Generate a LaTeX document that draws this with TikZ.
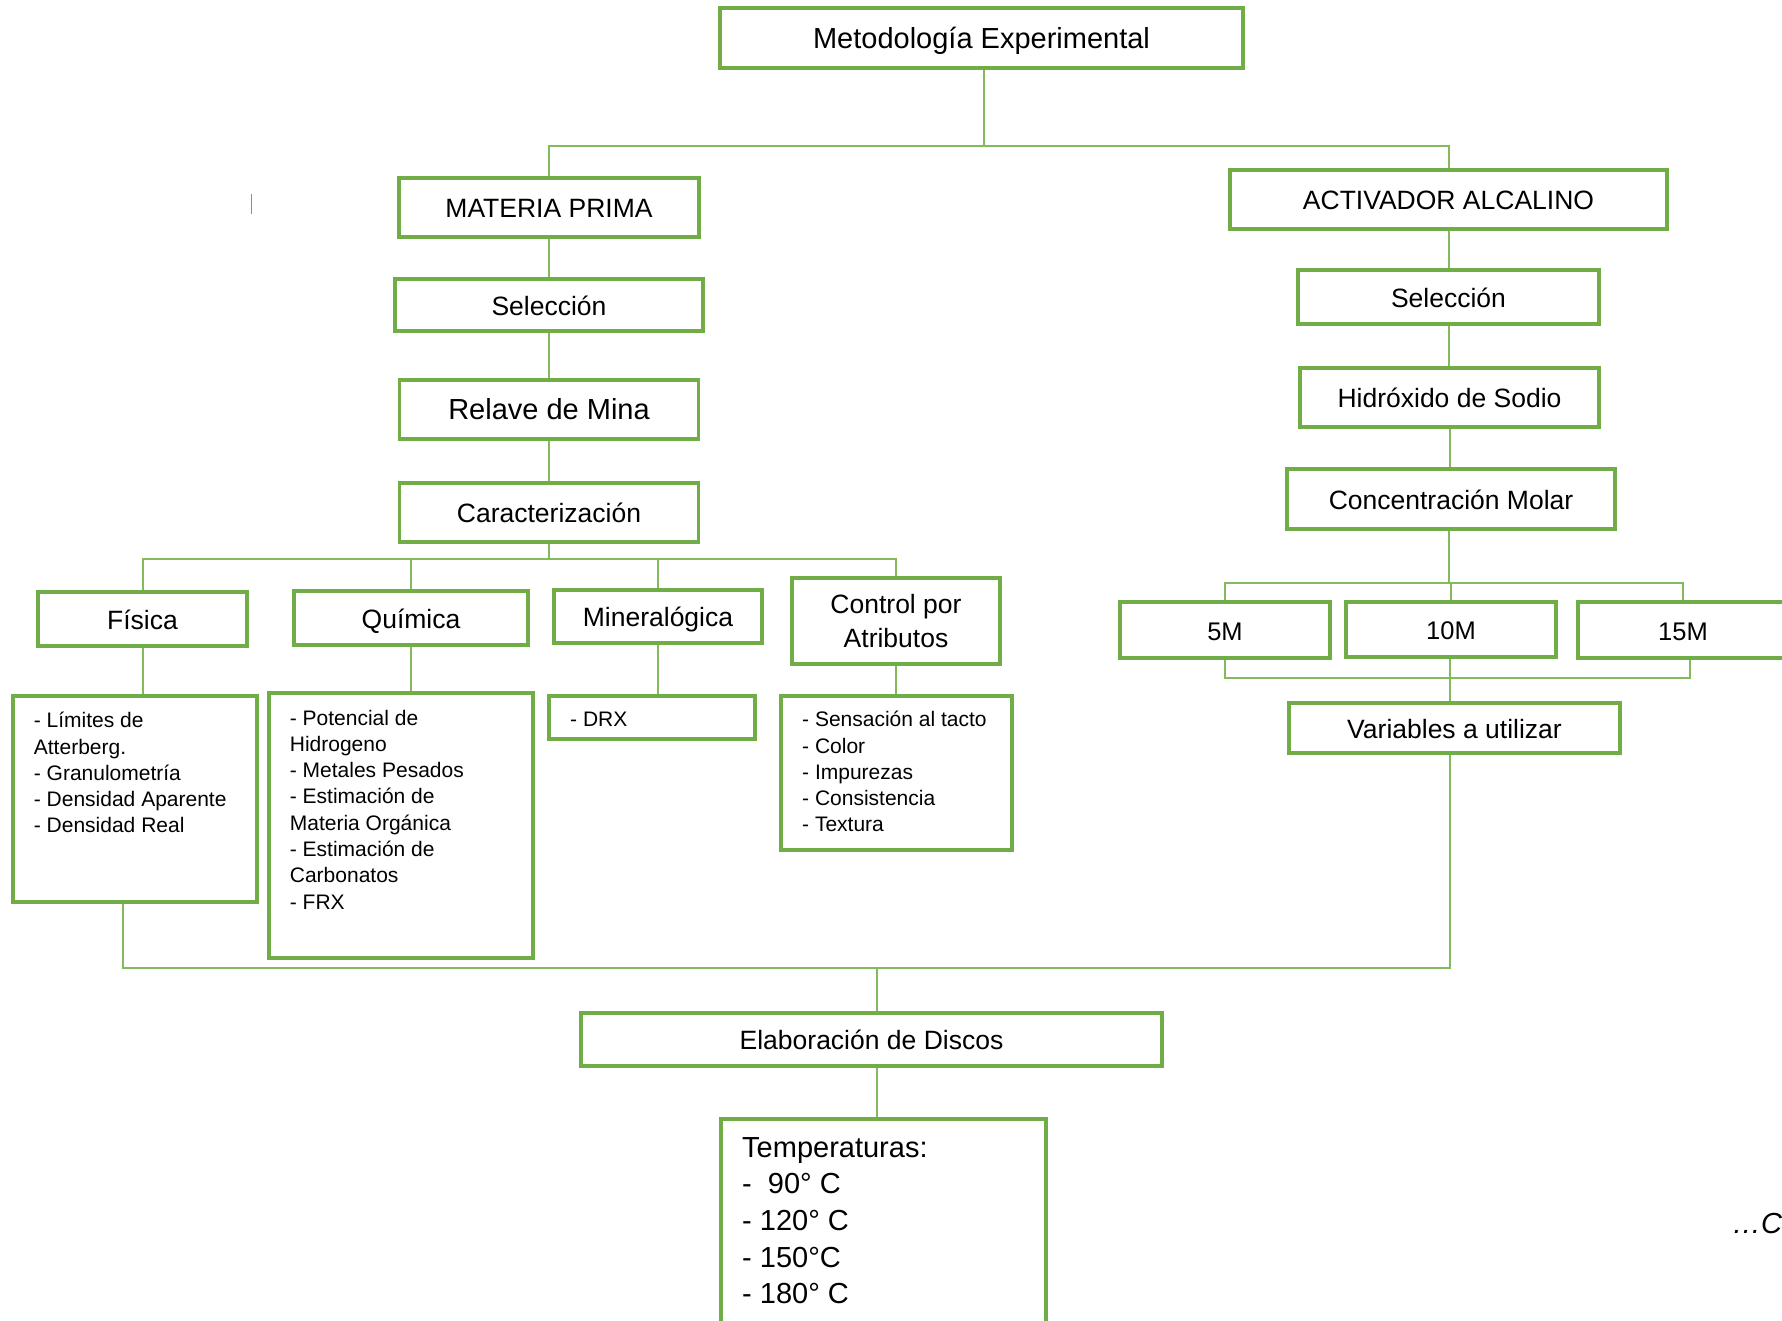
\documentclass[tikz,border=0pt]{standalone}
\usepackage{fontspec}
\setmainfont{Liberation Sans}
\definecolor{leaf}{HTML}{70AD47}
\definecolor{twig}{HTML}{82BA5E}
\definecolor{caret}{HTML}{5B9BD5}
% left-aligned block whose baseline is the first line's baseline
\newcommand\stackedlines[2]{\vtop{\baselineskip=#1pt\lineskiplimit=-100pt\lineskip=0pt\halign{##\hfil\cr#2\crcr}}}
\tikzset{
  box/.style={draw=leaf, line width=3.6pt, rectangle, inner sep=0pt, fill=white,
              font=\fontsize{26.5}{34}\selectfont, align=center},
  one/.style={text height=23pt, text depth=2.5pt},
  big/.style={font=\fontsize{29}{34}\selectfont},
  link/.style={draw=twig, line width=2pt},
  listtext/.style={anchor=base west, inner sep=0pt, font=\fontsize{21}{26.3}\selectfont},
}
\begin{document}
\begin{tikzpicture}[x=1pt, y=-1pt]
\useasboundingbox (0,0) rectangle (1782,1320);
\fill[white] (0,0) rectangle (1782,1320);
\clip (0,0) rectangle (1782,1320);

% junction points
\coordinate (b1) at (984,146);
\coordinate (b2) at (549,559);
\coordinate (b3) at (1449,583);
\coordinate (b4) at (1450,678);
\coordinate (b5) at (877,968);
\coordinate (b6) at (123,968);

% top level
\node[box, one, big, minimum width=523, minimum height=60] (top) at (981.5,38) {Metodología Experimental};

% raw material branch
\node[box, one, minimum width=300, minimum height=59] (mp) at (549,207.5) {MATERIA PRIMA};
\node[box, one, minimum width=308, minimum height=52] (sel1) at (549,305) {Selección};
\node[box, one, big, minimum width=299, minimum height=59] (relave) at (549,409.5) {Relave de Mina};
\node[box, one, minimum width=299, minimum height=59] (carac) at (549,512.5) {Caracterización};

\node[box, one, minimum width=209, minimum height=54] (fis) at (142.5,619) {Física};
\node[box, one, minimum width=234, minimum height=54] (qui) at (411,618) {Química};
\node[box, one, minimum width=208, minimum height=53] (min) at (658,616.5) {Mineralógica};
\node[box, minimum width=208, minimum height=86] (ctrl) at (896,621) {Control por\\Atributos};

\node[box, minimum width=244, minimum height=206] (fisl) at (135,799) {};
\node[box, minimum width=264, minimum height=265] (quil) at (401,825.5) {};
\node[box, minimum width=206, minimum height=43] (drx) at (652,717.5) {};
\node[box, minimum width=231, minimum height=154] (ctrll) at (896.5,773) {};

\node[listtext] (fist) at (33.7,727.7) {\stackedlines{26.3}{- Límites de\cr Atterberg.\cr - Granulometría\cr - Densidad Aparente\cr - Densidad Real}};
\node[listtext] (quit) at (289.7,725) {\stackedlines{26.3}{- Potencial de\cr Hidrogeno\cr - Metales Pesados\cr - Estimación de\cr Materia Orgánica\cr - Estimación de\cr Carbonatos\cr - FRX}};
\node[listtext] (drxt) at (570,726.7) {- DRX};
\node[listtext] (ctrlt) at (802,726.7) {\stackedlines{26.3}{- Sensación al tacto\cr - Color\cr - Impurezas\cr - Consistencia\cr - Textura}};

% alkaline activator branch
\node[box, one, minimum width=437, minimum height=59] (act) at (1448.5,199.5) {ACTIVADOR ALCALINO};
\node[box, one, minimum width=301, minimum height=54] (sel2) at (1448.5,297) {Selección};
\node[box, one, minimum width=299, minimum height=59] (hid) at (1449.5,397.5) {Hidróxido de Sodio};
\node[box, one, minimum width=328, minimum height=60] (conc) at (1451,499) {Concentración Molar};

\node[box, one, font=\fontsize{25.5}{30}\selectfont, minimum width=210, minimum height=56] (m5) at (1225,630) {5M};
\node[box, one, font=\fontsize{25.5}{30}\selectfont, minimum width=210, minimum height=55] (m10) at (1451,629.5) {10M};
\node[box, one, font=\fontsize{25.5}{30}\selectfont, minimum width=210, minimum height=56] (m15) at (1683,630) {15M};
\node[box, one, minimum width=331, minimum height=50] (var) at (1454.5,728) {Variables a utilizar};

% disc preparation
\node[box, one, minimum width=581, minimum height=53] (elab) at (871.5,1039.5) {Elaboración de Discos};
\node[box, minimum width=325, minimum height=281] (temp) at (883.5,1259.5) {};
\node[listtext, font=\fontsize{29}{36.7}\selectfont] (tempt) at (742,1157) {\stackedlines{36.7}{Temperaturas:\cr -\ \ 90° C\cr - 120° C\cr - 150°C\cr - 180° C}};

\node[anchor=base west, inner sep=0pt, font=\fontsize{29}{34}\selectfont\itshape] (cont) at (1732,1233) {…C};

% text cursor mark
\draw[caret, line width=1pt] (251,194) -- (251,214);

% connectors
\draw[link] (top.south -| b1) -- (b1);
\draw[link] (mp.north) |- (b1) -| (act.north);
\draw[link] (mp.south) -- (sel1.north);
\draw[link] (sel1.south) -- (relave.north);
\draw[link] (relave.south) -- (carac.north);
\draw[link] (carac.south) -- (b2);
\draw[link] (fis.north) |- (b2) -| (ctrl.north);
\draw[link] (qui.north) -- (qui.north |- b2);
\draw[link] (min.north) -- (min.north |- b2);
\draw[link] (fis.south) -- (fis.south |- fisl.north);
\draw[link] (qui.south) -- (qui.south |- quil.north);
\draw[link] (min.south) -- (min.south |- drx.north);
\draw[link] (ctrl.south) -- (ctrl.south |- ctrll.north);

\draw[link] (act.south) -- (sel2.north);
\draw[link] (sel2.south) -- (sel2.south |- hid.north);
\draw[link] (hid.south) -- (hid.south |- conc.north);
\draw[link] (conc.south -| b3) -- (b3);
\draw[link] (m5.north) |- (b3) -| (m15.north);
\draw[link] (m10.north) -- (m10.north |- b3);
\draw[link] (m5.south) |- (b4) -| ([xshift=7pt]m15.south);
\draw[link] (m10.south -| b4) -- (var.north -| b4);

\draw[link] (var.south -| b4) |- (b6) -- ([xshift=-12pt]fisl.south);
\draw[link] (b5) -- (b5 |- elab.north);
\draw[link] (elab.south -| b5) -- (temp.north -| b5);
\end{tikzpicture}
\end{document}
